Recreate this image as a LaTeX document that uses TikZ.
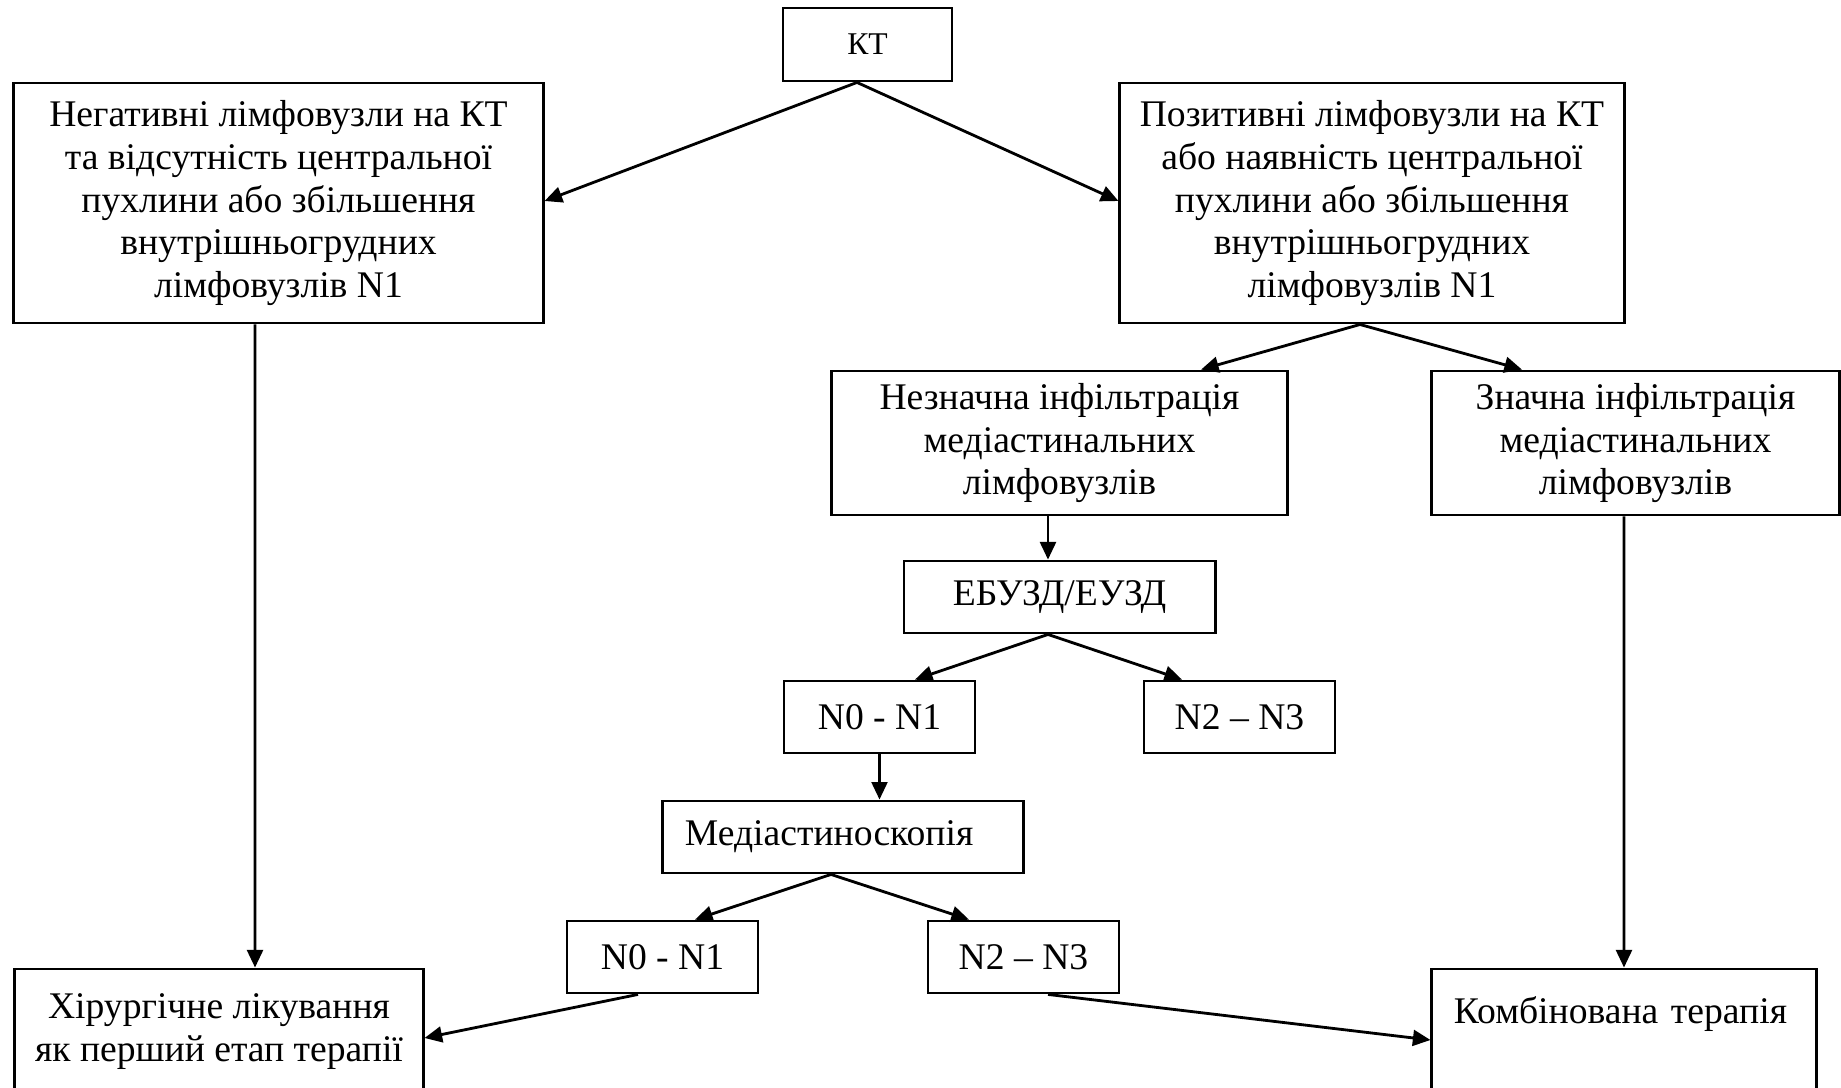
\documentclass[tikz,border=0pt]{standalone}
\usepackage{fontspec}
\setmainfont{Liberation Serif}
\usetikzlibrary{arrows.meta}

\begin{document}
\begin{tikzpicture}[x=0.01cm,y=-0.01cm,line width=0.8pt,
				>={Triangle[length=5pt,width=4.5pt]},
				every node/.style={draw,rectangle,inner sep=0pt,align=center,
					font=\fontsize{10.7}{12.2}\selectfont},
				small box/.style={minimum width=1.91cm,minimum height=0.72cm},
				left text/.style={align=left,inner xsep=2.2mm}]
\useasboundingbox (0,0) rectangle (1841,1087);
\clip (0,0) rectangle (1841,1087);
\node[minimum width=1.69cm,minimum height=0.73cm,font=\fontsize{9}{10}\selectfont] (kt) at (867.5,44.5) {КТ};
\node[minimum width=5.29cm,minimum height=2.40cm] (neg) at (278.5,203) {Негативні лімфовузли на КТ\\ та відсутність центральної\\ пухлини або збільшення\\ внутрішньогрудних\\ лімфовузлів N1};
\node[minimum width=5.04cm,minimum height=2.40cm] (pos) at (1372,203) {Позитивні лімфовузли на КТ\\ або наявність центральної\\ пухлини або збільшення\\ внутрішньогрудних\\ лімфовузлів N1};
\node[minimum width=4.55cm,minimum height=1.44cm] (nezn) at (1059.5,443) {Незначна інфільтрація\\ медіастинальних\\ лімфовузлів};
\node[minimum width=4.07cm,minimum height=1.44cm] (zn) at (1635.5,443) {Значна інфільтрація\\ медіастинальних\\ лімфовузлів};
\node[minimum width=3.11cm,minimum height=0.72cm] (ebuzd) at (1059.5,597) {ЕБУЗД/ЕУЗД};
\node[small box] (nna) at (879.5,717) {N0 - N1};
\node[small box] (nnb) at (1239.5,717) {N2 – N3};
\node[left text,text width=3.16cm,minimum height=0.72cm] (med) at (843,837) {Медіастиноскопія};
\node[small box] (nnc) at (662.5,957) {N0 - N1};
\node[small box] (nnd) at (1023.5,957) {N2 – N3};
\node[minimum width=4.08cm,minimum height=1.25cm] (hir) at (219,1031.5) {Хірургічне лікування\\ як перший етап терапії};
\node[left text,text width=3.40cm,minimum height=1.25cm] (komb) at (1624,1031.5) {Комбінована терапія\\ \mbox{}};

\draw[->] ([xshift=-1.05mm]kt.south) -- ([yshift=0.2mm]neg.east);
\draw[->] ([xshift=-1.05mm]kt.south) -- ([yshift=0.2mm]pos.west);
\draw[->] ([xshift=-1.2mm]pos.south) -- ([xshift=14.15mm]nezn.north);
\draw[->] ([xshift=-1.2mm]pos.south) -- ([xshift=-11.35mm]zn.north);
\draw[->] ([xshift=-1.15mm]nezn.south) -- ([xshift=-1.15mm]ebuzd.north);
\draw[->] ([xshift=-1.15mm]ebuzd.south) -- ([xshift=3.55mm]nna.north);
\draw[->] ([xshift=-1.15mm]ebuzd.south) -- ([xshift=-5.75mm]nnb.north);
\draw[->] (nna.south) -- (nna.south |- med.north);
\draw[->] ([xshift=-1.2mm]med.south) -- ([xshift=3.25mm]nnc.north);
\draw[->] ([xshift=-1.2mm]med.south) -- ([xshift=-5.45mm]nnd.north);
\draw[->] ([xshift=-2.45mm]nnc.south) -- ([yshift=-0.65mm]hir.east);
\draw[->] ([xshift=2.45mm]nnd.south) -- ([yshift=-0.85mm]komb.west);
\draw[->] ([xshift=-2.35mm]neg.south) -- ([xshift=3.6mm]hir.north);
\draw[->] ([xshift=-1.15mm]zn.south) -- (komb.north);
\end{tikzpicture}
\end{document}
